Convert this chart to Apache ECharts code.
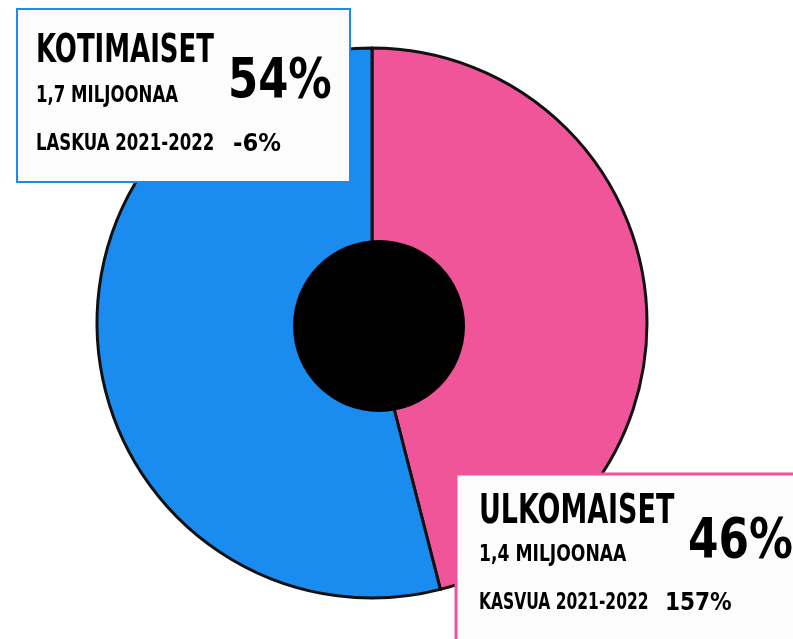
<!DOCTYPE html>
<html>
<head>
<meta charset="utf-8">
<script src="https://cdn.jsdelivr.net/npm/echarts@6/dist/echarts.min.js"></script>
<style>
  html, body { margin: 0; padding: 0; background: #ffffff; }
  #chart { width: 793px; height: 639px; }
</style>
</head>
<body>
<div id="chart"></div>
<script>
// data
const groups = ['ULKOMAISET', 'KOTIMAISET']
const shares = [46, 54]
const amounts = ['1,4 MILJOONAA', '1,7 MILJOONAA']
const trendLabels = ['KASVUA 2021-2022', 'LASKUA 2021-2022']
const trendValues = ['157%', '-6%']
const colors = ['#f05599', '#1a8cf0']

const FONT = '"DejaVu Sans Condensed", "DejaVu Sans", sans-serif'

const chart = echarts.init(document.getElementById('chart'))

// text squeezed horizontally to mimic the condensed display font
function label(txt, x, y, size, sx) {
  return {
    type: 'text',
    x: x,
    y: y,
    scaleX: sx,
    z: 10,
    style: {
      text: txt,
      fill: '#000',
      font: 'bold ' + size + 'px ' + FONT,
      verticalAlign: 'top',
    },
  }
}

chart.setOption({
  animation: false,
  backgroundColor: '#ffffff',
  series: [
    {
      type: 'pie',
      center: [372, 323],
      radius: [0, 275],
      startAngle: 90,
      clockwise: true,
      silent: true,
      label: { show: false },
      labelLine: { show: false },
      itemStyle: { borderColor: '#111', borderWidth: 3 },
      data: groups.map((g, i) => ({ name: g, value: shares[i], itemStyle: { color: colors[i] } })),
    },
    {
      type: 'pie',
      center: [379, 326],
      radius: [0, 86],
      silent: true,
      z: 3,
      label: { show: false },
      labelLine: { show: false },
      itemStyle: { color: '#000' },
      data: [1],
    },
  ],
  graphic: [
    {
      type: 'rect',
      z: 5,
      shape: { x: 17, y: 9, width: 333, height: 173 },
      style: { fill: '#fcfcfc', stroke: '#1a8cf0', lineWidth: 2 },
    },
    {
      type: 'rect',
      z: 5,
      shape: { x: 456, y: 474, width: 345, height: 170 },
      style: { fill: '#fcfcfc', stroke: '#f05599', lineWidth: 3 },
    },
    label(groups[1], 36, 32, 39, 0.74),
    label(shares[1] + '%', 228, 54, 56, 0.86),
    label(amounts[1], 36, 85, 23, 0.8),
    label(trendLabels[1], 36, 133, 23, 0.8),
    label(trendValues[1], 233, 133, 24, 1.05),

    label(groups[0], 479, 492, 41, 0.73),
    label(shares[0] + '%', 688, 514, 56, 0.87),
    label(amounts[0], 479, 544, 23, 0.83),
    label(trendLabels[0], 479, 592, 23, 0.75),
    label(trendValues[0], 665, 591, 25, 0.96),
  ],
})
</script>
</body>
</html>
